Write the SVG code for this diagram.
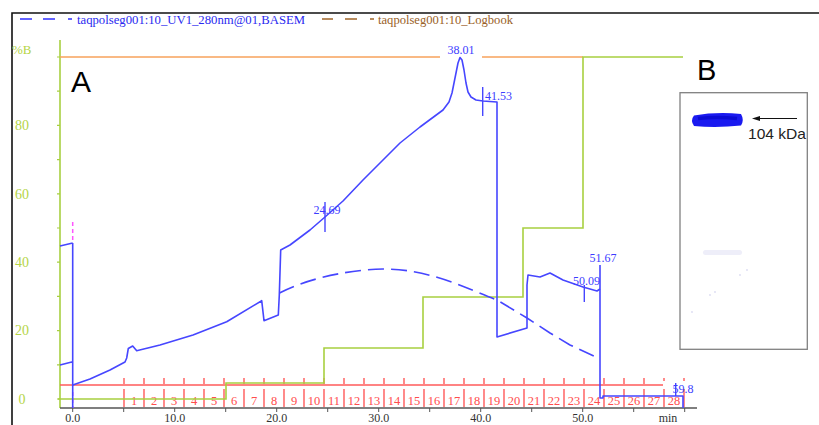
<svg xmlns="http://www.w3.org/2000/svg" width="819" height="425" viewBox="0 0 819 425">
<style>
.serif{font-family:"Liberation Serif","Times New Roman",serif}
.sans{font-family:"Liberation Sans",Arial,sans-serif}
.uv{fill:none;stroke:#4646ff;stroke-width:1.6;stroke-linejoin:round}
.bl{fill:#3c3cff;font-size:12px}
.yl{fill:#b5d547;font-size:14px;text-anchor:middle}
.xl{fill:#333;font-size:12px;text-anchor:middle}
.fr{fill:#ff4d4d;font-size:12.5px;text-anchor:middle}
.red{stroke:#ff5a5a;stroke-width:1.4;fill:none}
.grn{stroke:#a8d040;stroke-width:1.6;fill:none}
</style>
<rect width="819" height="425" fill="#fff"/>
<g id="frame">
<path d="M12,425 V13 H819" fill="none" stroke="#111" stroke-width="1.6"/>
</g>
<g id="legend">
<path d="M20,19 H32 M43,19 H55 M68,19 H72" stroke="#3030ff" stroke-width="1.5"/>
<text class="serif" x="77" y="24" font-size="12.5" fill="#2a2af0" textLength="228" lengthAdjust="spacingAndGlyphs">taqpolseg001:10_UV1_280nm@01,BASEM</text>
<path d="M322,19 H333 M345,19 H357 M370,19 H374" stroke="#a0652a" stroke-width="1.5"/>
<text class="serif" x="378" y="24" font-size="12.5" fill="#9a5f28" textLength="135" lengthAdjust="spacingAndGlyphs">taqpolseg001:10_Logbook</text>
</g>
<g id="axes">
<line x1="60" y1="40" x2="60" y2="408" stroke="#a8d040" stroke-width="1.6"/>
<path d="M57,399H60M57,364.8H60M57,330.6H60M57,296.4H60M57,262.2H60M57,228H60M57,193.8H60M57,159.6H60M57,125.4H60M57,91.2H60M57,57H60" stroke="#a8d040" stroke-width="1.2"/>
<text class="serif" x="12" y="54" font-size="13" fill="#b5d547">%B</text>
<text class="serif yl" x="22" y="130">80</text>
<text class="serif yl" x="22" y="199">60</text>
<text class="serif yl" x="22" y="267">40</text>
<text class="serif yl" x="22" y="335">20</text>
<text class="serif yl" x="22" y="404">0</text>
<line x1="60" y1="408" x2="697" y2="408" stroke="#555" stroke-width="1.4"/>
<path d="M72.7,408v4M123.7,408v4M174.7,408v4M225.7,408v4M276.7,408v4M327.7,408v4M378.7,408v4M429.7,408v4M480.7,408v4M531.7,408v4M582.7,408v4M633.7,408v4M684.7,408v4" stroke="#555" stroke-width="1"/>
<text class="serif xl" x="72.7" y="422">0.0</text>
<text class="serif xl" x="174.7" y="422">10.0</text>
<text class="serif xl" x="276.7" y="422">20.0</text>
<text class="serif xl" x="378.7" y="422">30.0</text>
<text class="serif xl" x="480.7" y="422">40.0</text>
<text class="serif xl" x="582.7" y="422">50.0</text>
<text class="serif xl" x="668" y="422">min</text>
</g>
<g id="fractions">
<line x1="60" y1="385" x2="663" y2="385" class="red" stroke-width="2"/>
<path class="red" d="M124,378v6M144,378v6M164,378v6M184,378v6M204,378v6M224,378v6M244,378v6M264,378v6M284,378v6M304,378v6M324,378v6M344,378v6M364,378v6M384,378v6M404,378v6M424,378v6M444,378v6M464,378v6M484,378v6M504,378v6M524,378v6M544,378v6M564,378v6M584,378v6M604,378v6M624,378v6M644,378v6M664,378v3M684,378v3"/>
<path class="red" d="M124,389v18M144,389v18M164,389v18M184,389v18M204,389v18M224,389v18M244,389v18M264,389v18M284,389v18M304,389v18M324,389v18M344,389v18M364,389v18M384,389v18M404,389v18M424,389v18M444,389v18M464,389v18M484,389v18M504,389v18M524,389v18M544,389v18M564,389v18M584,389v18M604,389v18M624,389v18M644,389v18M664,389v18M684,389v18"/>
<g class="serif fr">
<text x="134" y="405">1</text><text x="154" y="405">2</text><text x="174" y="405">3</text><text x="194" y="405">4</text><text x="214" y="405">5</text><text x="234" y="405">6</text><text x="254" y="405">7</text><text x="274" y="405">8</text><text x="294" y="405">9</text><text x="314" y="405">10</text><text x="334" y="405">11</text><text x="354" y="405">12</text><text x="374" y="405">13</text><text x="394" y="405">14</text><text x="414" y="405">15</text><text x="434" y="405">16</text><text x="454" y="405">17</text><text x="474" y="405">18</text><text x="494" y="405">19</text><text x="514" y="405">20</text><text x="534" y="405">21</text><text x="554" y="405">22</text><text x="574" y="405">23</text><text x="594" y="405">24</text><text x="614" y="405">25</text><text x="634" y="405">26</text><text x="654" y="405">27</text><text x="674" y="405">28</text>
</g>
</g>
<g id="gradient">
<path d="M60,57 H440 M482,57 H583" stroke="#f7a35c" stroke-width="1.6" fill="none"/>
<path class="grn" d="M58,399 H226 V383 H324 V348 H423 V297 H523 V228 H583 V57 H683"/>
</g>
<g id="uv-traces">
<path d="M72.7,222 V240 M72.7,392 V408" stroke="#ff55ff" stroke-width="1.5" stroke-dasharray="4 3"/>
<path class="uv" d="M60,246 L72.7,243 M60,365 L72.7,361.7 M72.7,243 V408"/>
<path class="uv" d="M72.7,385 L90,379 L110,370 L125,362 L126.7,358 L128.3,348.5 L132.7,346 L136.7,350.7 L160,345 L193,335 L226.7,321.7 L261.7,300.7 L264,320.7 L278.3,315 L279.3,295 L280.7,250 L290,245 L310,230 L325,217 L343,201 L363,180 L380,163 L400,143 L420,127 L443,110 L449,102 L452,93 L455,78 L458,63 L460,57.5 L462,60 L464,70 L466,83 L468,92 L471,97 L476,100 L483,101 L497,102 L497,337 L527,328 L527,285 L528,275 L540,277 L550,273 L563,280 L583,287 L597,291 L600,289"/>
<path class="uv" d="M600,265 V398 H603 V396 H683 V408"/>
<path class="uv" stroke-dasharray="16 7" d="M279.5,293 C300,282 340,270 383,269 C430,269 465,288 497,300 L527,318 L550,333 L570,345 L598,358"/>
</g>
<g id="peak-labels">
<path d="M325,202 V232 M482.7,87 V116 M584.3,285 V302 M675.7,383 V396" stroke="#4646ff" stroke-width="1.4"/>
<text class="serif bl" x="327" y="214" text-anchor="middle">24.69</text>
<text class="serif bl" x="461" y="54" text-anchor="middle">38.01</text>
<text class="serif bl" x="485" y="100">41.53</text>
<text class="serif bl" x="586.5" y="285" text-anchor="middle">50.09</text>
<text class="serif bl" x="603" y="262" text-anchor="middle">51.67</text>
<text class="serif bl" x="683" y="393" text-anchor="middle">59.8</text>
</g>
<g id="panel-labels">
<text class="sans" x="71" y="92" font-size="30" fill="#000">A</text>
<text class="sans" x="697" y="80" font-size="29" fill="#000">B</text>
</g>
<g id="gel">
<rect x="680" y="92.7" width="127.3" height="256.6" fill="#fff" stroke="#808080" stroke-width="1.3"/>
<path d="M694,115.5 Q717,111.5 741,114 Q744.5,120 741,125.5 Q717,128 694,126 Q690,120.5 694,115.5 Z" fill="#1a1af0"/>
<path d="M698,118.5 Q717,116.5 737,118.5" stroke="#0000c0" stroke-width="3.5" fill="none" opacity="0.55"/>
<rect x="703" y="250" width="39" height="5" rx="2.5" fill="#eeeef9"/>
<g fill="#dcdcf2">
<circle cx="747" cy="270" r="0.9"/><circle cx="740" cy="275" r="0.9"/><circle cx="715" cy="292" r="0.9"/><circle cx="710" cy="295" r="0.9"/><circle cx="692" cy="312" r="0.9"/>
</g>
<line x1="797" y1="118.5" x2="758" y2="118.5" stroke="#111" stroke-width="1.1"/>
<path d="M752,118.5 L760,116 L760,121 Z" fill="#111"/>
<text class="sans" x="748" y="138.5" font-size="15" fill="#222" textLength="58" lengthAdjust="spacingAndGlyphs">104 kDa</text>
</g>
</svg>
